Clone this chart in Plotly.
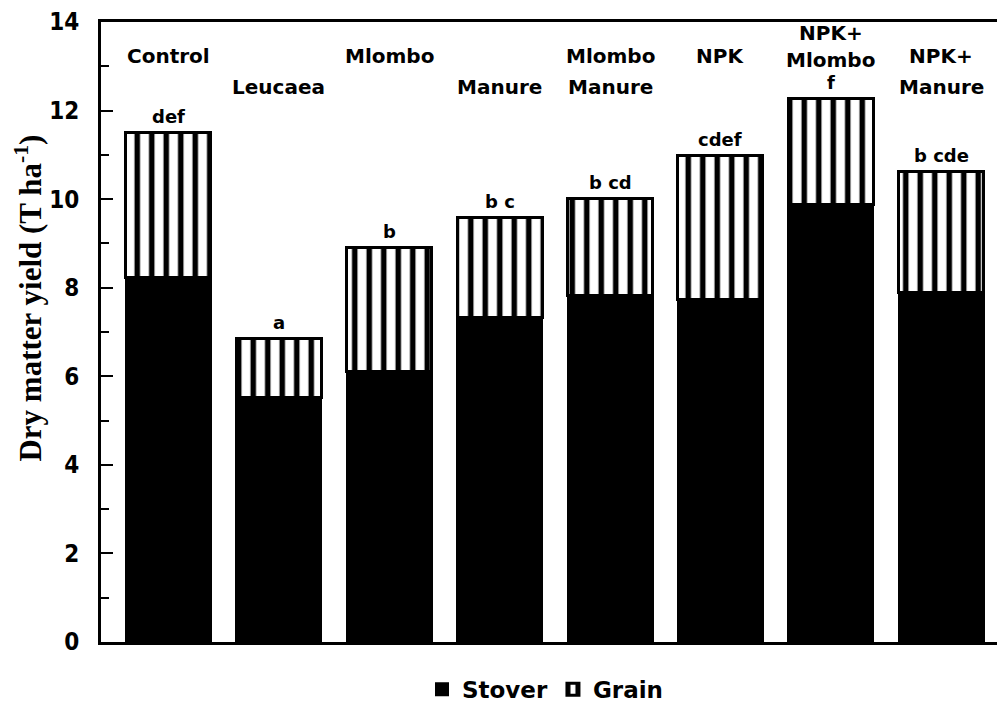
import plotly.graph_objects as go

treatments = ["Control", "Leucaea", "Mlombo", "Manure", "Mlombo Manure",
              "NPK", "NPK+ Mlombo", "NPK+ Manure"]
stover = [8.24, 5.53, 6.11, 7.33, 7.82, 7.74, 9.87, 7.89]
total = [11.50, 6.86, 8.91, 9.58, 10.02, 10.98, 12.27, 10.62]
grain = [round(t - s, 2) for t, s in zip(total, stover)]
sig_letters = ["def", "a", "b", "b c", "b cd", "cdef", "f", "b cde"]
# header lines shown above each bar (top line first)
header_lines = [["Control"], ["", "Leucaea"], ["Mlombo"], ["", "Manure"],
                ["Mlombo", "Manure"], ["NPK"], ["NPK+", "Mlombo"], ["NPK+", "Manure"]]
y_ticks = [0, 2, 4, 6, 8, 10, 12, 14]

LABEL_FONT = "DejaVu Sans"
x_idx = list(range(len(treatments)))

fig = go.Figure()
fig.add_trace(go.Bar(
    x=x_idx, y=stover, name="Stover", width=0.77,
    marker=dict(color="black", line=dict(color="black", width=2)),
))
fig.add_trace(go.Bar(
    x=x_idx, y=grain, name="Grain", width=0.77,
    marker=dict(color="white", line=dict(color="black", width=3),
                pattern=dict(shape="|", size=14.5, solidity=0.38,
                             fgcolor="black", bgcolor="white", fillmode="replace")),
))

# page is offset by the 8px body margin: screen px -> plot paper coords
def py(screen_y):
    return 1 - (screen_y - 12) / 630

def px(screen_x):
    return (screen_x - 101) / 904

annotations = []
for i, (t, lab) in enumerate(zip(total, sig_letters)):
    annotations.append(dict(x=i, y=t, xref="x", yref="y", text=lab, showarrow=False,
                            yanchor="middle", yshift=16,
                            font=dict(family=LABEL_FONT, size=18, color="black", weight="bold")))

row_y_px = [47, 78]
special_rows = {6: [23, 51]}
for i, lines in enumerate(header_lines):
    ys = special_rows.get(i, row_y_px)
    for j, line in enumerate(lines):
        if not line:
            continue
        annotations.append(dict(x=i, y=py(ys[j]), xref="x", yref="paper",
                                text=line, showarrow=False, yanchor="middle",
                                font=dict(family=LABEL_FONT, size=20, color="black", weight="bold")))

annotations.append(dict(x=px(29), y=py(293), xref="paper", yref="paper",
                        text="Dry matter yield (T ha<sup>-1</sup>)", showarrow=False,
                        textangle=-90, xanchor="center", yanchor="middle",
                        font=dict(family="Liberation Serif", size=31, color="black", weight="bold")))

fig.update_layout(
    width=997, height=707,
    margin=dict(l=93, r=0, t=4, b=73),
    paper_bgcolor="white", plot_bgcolor="white",
    barmode="stack",
    showlegend=True,
    legend=dict(orientation="h", x=px(545), xanchor="center", y=py(690), yanchor="middle",
                traceorder="normal",
                font=dict(family=LABEL_FONT, size=23, color="black", weight="bold")),
    annotations=annotations,
    xaxis=dict(range=[-0.611, 7.577], showticklabels=False, ticks="",
               showline=True, linecolor="black", linewidth=3, mirror=True,
               showgrid=False, zeroline=False),
    yaxis=dict(range=[0, 14], tickvals=y_ticks, ticktext=[str(v) for v in y_ticks],
               showline=True, linecolor="black", linewidth=3,
               ticks="inside", ticklen=12, tickwidth=2, tickcolor="black",
               minor=dict(ticks="inside", ticklen=8, tickwidth=2, tickcolor="black", dtick=1,
                          showgrid=False),
               ticklabelstandoff=14, ticklabeloverflow="allow",
               tickfont=dict(family="DejaVu Sans Condensed, DejaVu Sans", size=24,
                             color="black", weight="bold"),
               showgrid=False, zeroline=False),
)

fig.write_html("out.html")
